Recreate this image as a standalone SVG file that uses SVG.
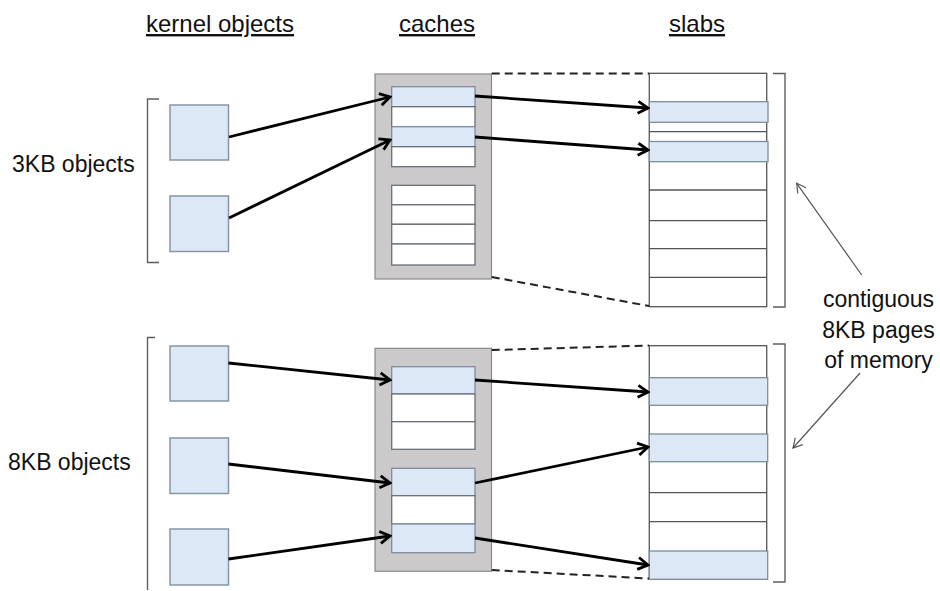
<svg xmlns="http://www.w3.org/2000/svg" width="940" height="591" viewBox="0 0 940 591">
<style>
text{font-family:"Liberation Sans",Arial,sans-serif;fill:#111}
.hdr{font-size:24px;text-decoration:underline;text-anchor:middle}
.lbl{font-size:23px}
.note{font-size:23px;text-anchor:middle}
.obj{fill:#dce8f5;stroke:#8795a5;stroke-width:1.5}
.cache{fill:#cbc9c9;stroke:#8a8a8a;stroke-width:1.2}
.row{fill:#fff;stroke:#6a6f78;stroke-width:1.3}
.rowb{fill:#dce8f5;stroke:#7f8c9c;stroke-width:1.3}
.slab{fill:#fff;stroke:#555;stroke-width:1.3}
.sline{stroke:#555;stroke-width:1.3}
.brk{fill:none;stroke:#5e5e5e;stroke-width:1.4}
.arr{stroke:#000;stroke-width:2.8;fill:none;marker-end:url(#ah)}
.dash{stroke:#222;stroke-width:2;stroke-dasharray:8 5;fill:none}
.thin{stroke:#555;stroke-width:1.2;fill:none;marker-end:url(#ah2)}
</style>
<defs>
<marker id="ah" viewBox="-13 -8 15 16" markerWidth="15" markerHeight="16" refX="0" refY="0" orient="auto" markerUnits="userSpaceOnUse"><path d="M-10,-6 L0,0 L-10,6" fill="none" stroke="#000" stroke-width="2.8"/></marker>
<marker id="ah2" viewBox="-12 -7 13 14" markerWidth="13" markerHeight="14" refX="0" refY="0" orient="auto" markerUnits="userSpaceOnUse"><path d="M-9,-5 L0,0 L-9,5" fill="none" stroke="#555" stroke-width="1.2"/></marker>
</defs>

<g id="headers">
<text class="hdr" x="220" y="32">kernel objects</text>
<text class="hdr" x="437" y="32">caches</text>
<text class="hdr" x="697" y="32">slabs</text>
</g>

<g id="labels">
<text class="lbl" x="12" y="171.5">3KB objects</text>
<text class="lbl" x="8" y="470">8KB objects</text>
</g>

<g id="brackets">
<path class="brk" d="M159,99 H147.5 V262.5 H159"/>
<path class="brk" d="M155,337.5 H147.5 V590"/>
<path class="brk" d="M773,73.5 H785 V307 H773"/>
<path class="brk" d="M773,344 H785 V582 H773"/>
</g>

<g id="kobj-3kb-1"><rect class="obj" x="170" y="105" width="58.5" height="55"/></g>
<g id="kobj-3kb-2"><rect class="obj" x="170" y="196" width="58.5" height="55.5"/></g>
<g id="kobj-8kb-1"><rect class="obj" x="170" y="346" width="58.5" height="55"/></g>
<g id="kobj-8kb-2"><rect class="obj" x="170" y="438" width="58.5" height="55.5"/></g>
<g id="kobj-8kb-3"><rect class="obj" x="170" y="529" width="58.5" height="56"/></g>

<g id="cache-3kb">
<rect class="cache" x="375" y="74" width="116.5" height="205"/>
<rect class="rowb" x="391.7" y="86.7" width="83.3" height="20"/>
<rect class="row" x="391.7" y="106.7" width="83.3" height="20"/>
<rect class="rowb" x="391.7" y="126.7" width="83.3" height="20"/>
<rect class="row" x="391.7" y="146.7" width="83.3" height="20"/>
<rect class="row" x="391.7" y="185.3" width="83.3" height="19.5"/>
<rect class="row" x="391.7" y="204.8" width="83.3" height="19.5"/>
<rect class="row" x="391.7" y="224.3" width="83.3" height="19.7"/>
<rect class="row" x="391.7" y="244" width="83.3" height="21"/>
</g>

<g id="cache-8kb">
<rect class="cache" x="375" y="348.3" width="116.5" height="223"/>
<rect class="rowb" x="391.7" y="366.7" width="83.3" height="27.3"/>
<rect class="row" x="391.7" y="394" width="83.3" height="27.7"/>
<rect class="row" x="391.7" y="421.7" width="83.3" height="27.6"/>
<rect class="rowb" x="391.7" y="468.3" width="83.3" height="27.4"/>
<rect class="row" x="391.7" y="495.7" width="83.3" height="28.3"/>
<rect class="rowb" x="391.7" y="524" width="83.3" height="28.7"/>
</g>

<g id="slab-3kb">
<rect class="slab" x="649.3" y="73.3" width="117.4" height="233.4"/>
<rect class="rowb" x="649.3" y="101.7" width="118.7" height="20.6"/>
<line class="sline" x1="649.3" y1="131.7" x2="766.7" y2="131.7"/>
<rect class="rowb" x="649.3" y="141.5" width="118.7" height="20.2"/>
<line class="sline" x1="649.3" y1="190" x2="766.7" y2="190"/>
<line class="sline" x1="649.3" y1="220.7" x2="766.7" y2="220.7"/>
<line class="sline" x1="649.3" y1="248.7" x2="766.7" y2="248.7"/>
<line class="sline" x1="649.3" y1="277.3" x2="766.7" y2="277.3"/>
</g>

<g id="slab-8kb">
<rect class="slab" x="649.3" y="345.7" width="117.4" height="233.6"/>
<rect class="rowb" x="649.3" y="377.7" width="118.4" height="27.6"/>
<rect class="rowb" x="649.3" y="434" width="118.4" height="27.7"/>
<line class="sline" x1="649.3" y1="492.7" x2="766.7" y2="492.7"/>
<line class="sline" x1="649.3" y1="521.7" x2="766.7" y2="521.7"/>
<rect class="rowb" x="649.3" y="551" width="118.4" height="28.3"/>
</g>

<g id="note">
<text class="note" x="878.5" y="306.5">contiguous</text>
<text class="note" x="878.5" y="337.5">8KB pages</text>
<text class="note" x="878.5" y="367.5">of memory</text>
</g>

<g id="connectors">
<line class="dash" x1="491.7" y1="73.5" x2="649" y2="73.5"/>
<line class="dash" x1="491.7" y1="277" x2="649" y2="306"/>
<line class="dash" x1="491.7" y1="350" x2="649" y2="345.5"/>
<line class="dash" x1="491.7" y1="570" x2="649" y2="578.5"/>
<line class="arr" x1="229" y1="137" x2="390" y2="97"/>
<line class="arr" x1="229" y1="218" x2="390" y2="140"/>
<line class="arr" x1="475" y1="96" x2="648" y2="108"/>
<line class="arr" x1="475" y1="137" x2="648" y2="150"/>
<line class="arr" x1="228.5" y1="363" x2="390" y2="380"/>
<line class="arr" x1="228.5" y1="464" x2="390" y2="483"/>
<line class="arr" x1="228.5" y1="559" x2="390" y2="536"/>
<line class="arr" x1="475" y1="380" x2="648" y2="392"/>
<line class="arr" x1="475" y1="483" x2="648" y2="447"/>
<line class="arr" x1="475" y1="538" x2="648" y2="565"/>
<line class="thin" x1="861.7" y1="275" x2="796.7" y2="183.3"/>
<line class="thin" x1="860" y1="373" x2="793" y2="448"/>
</g>
</svg>
